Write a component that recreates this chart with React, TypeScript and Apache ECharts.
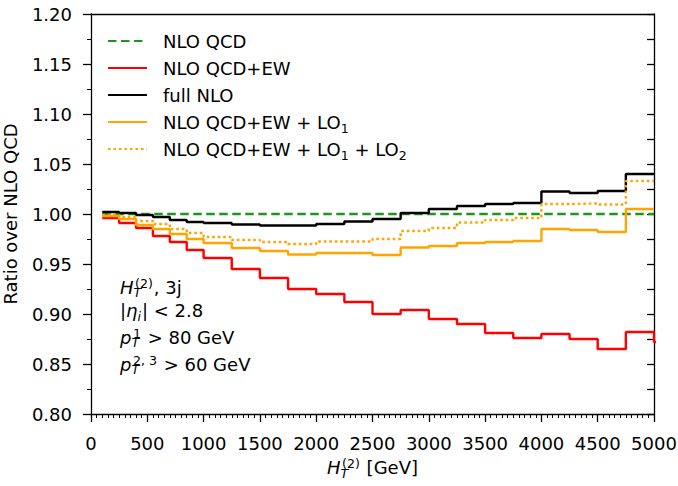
import React, { useEffect, useRef } from "react";
import * as echarts from "echarts";

// ---- data ----
const binEdges = [100, 250, 400, 550, 700, 850, 1000, 1250, 1500, 1750, 2000, 2250, 2500, 2750, 3000, 3250, 3500, 3750, 4000, 4250, 4500, 4750, 5000];
// red histogram has one more bin past the axis end (clipped)
const binEdgesEw = [...binEdges, 5250];

const nloQcd = [1.0, 1.0, 1.0, 1.0, 1.0, 1.0, 1.0, 1.0, 1.0, 1.0, 1.0, 1.0, 1.0, 1.0, 1.0, 1.0, 1.0, 1.0, 1.0, 1.0, 1.0, 1.0];
const nloQcdEw = [0.996, 0.991, 0.986, 0.978, 0.972, 0.964, 0.956, 0.945, 0.936, 0.925, 0.92, 0.912, 0.9, 0.904, 0.895, 0.89, 0.881, 0.876, 0.88, 0.875, 0.865, 0.882, 0.872];
const fullNlo = [1.002, 1.001, 0.999, 0.997, 0.994, 0.992, 0.991, 0.9895, 0.9885, 0.9885, 0.99, 0.9925, 0.995, 1.001, 1.005, 1.008, 1.01, 1.011, 1.0225, 1.021, 1.023, 1.04];
const nloQcdEwLo1 = [0.998, 0.995, 0.989, 0.985, 0.98, 0.975, 0.971, 0.966, 0.963, 0.9595, 0.961, 0.961, 0.959, 0.9665, 0.968, 0.971, 0.972, 0.973, 0.985, 0.984, 0.982, 1.005];
const nloQcdEwLo12 = [0.999, 0.997, 0.993, 0.99, 0.985, 0.981, 0.977, 0.974, 0.972, 0.97, 0.9725, 0.9725, 0.975, 0.983, 0.986, 0.9915, 0.994, 0.996, 1.01, 1.0105, 1.0095, 1.033];

const seriesNames = ["NLO QCD", "NLO QCD+EW", "full NLO", "NLO QCD+EW + LO1", "NLO QCD+EW + LO1 + LO2"];
const yTicks = { min: 0.8, max: 1.2, step: 0.05 };
const xTicks = { min: 0, max: 5000, step: 500 };

const FONT = '"DejaVu Sans", sans-serif';
const FS = 18;
const SS = FS * 0.7;

function stepPoints(edges: number[], vals: number[]) {
  const pts: number[][] = vals.map((v, i) => [edges[i], v]);
  pts.push([edges[vals.length], vals[vals.length - 1]]);
  return pts;
}

let measureCtx: CanvasRenderingContext2D | null = null;
function measure(t: string, fs: number, it?: boolean) {
  if (!measureCtx) measureCtx = document.createElement("canvas").getContext("2d");
  measureCtx!.font = `${it ? "italic " : ""}${fs}px "DejaVu Sans"`;
  return measureCtx!.measureText(t).width;
}

// piece: plain text, subscript only, or stacked sub+sup block
type Piece = { t?: string; it?: boolean; sub?: string; subDy?: number; sup?: string; dx?: number };

const SUB_DY = 3.6; // baseline shift of a lone subscript
const STACK_SUB = 3.4; // sub baseline below main baseline (stacked)
const STACK_SUP = -6.0; // sup baseline relative to main baseline (stacked)
const SUP_DX = 1.5;

function mathText(x0: number, base: number, pieces: Piece[], center = false) {
  // measure
  const widths = pieces.map((p) => {
    if (p.sup !== undefined) return Math.max(measure(p.sub || "", SS, true), SUP_DX + measure(p.sup, SS, false));
    if (p.sub !== undefined) return measure(p.sub, SS, true);
    return measure(p.t || "", FS, p.it);
  });
  const total = widths.reduce((a, w, i) => a + w + (pieces[i].dx || 0), 0);
  let x = center ? x0 - total / 2 : x0;
  const els: any[] = [];
  pieces.forEach((p, i) => {
    x += p.dx || 0;
    if (p.sup !== undefined) {
      const lh = STACK_SUB - STACK_SUP;
      const midBase = (STACK_SUB + STACK_SUP) / 2;
      els.push({
        type: "text",
        x,
        y: base + midBase - 0.346 * SS,
        silent: true,
        style: {
          text: "{p|" + p.sup + "}\n{b|" + (p.sub || "") + "}",
          align: "left",
          verticalAlign: "middle",
          rich: {
            p: { fontFamily: FONT, fontSize: SS, fill: "#000", lineHeight: lh, padding: [0, 0, 0, SUP_DX] },
            b: { fontFamily: FONT, fontSize: SS, fill: "#000", fontStyle: "italic", lineHeight: lh },
          },
        },
      });
    } else if (p.sub !== undefined) {
      els.push({
        type: "text",
        x,
        y: base + SUB_DY - 0.346 * SS,
        silent: true,
        style: { text: p.sub, fill: "#000", fontSize: SS, fontFamily: FONT, fontStyle: "italic", align: "left", verticalAlign: "middle" },
      });
    } else {
      els.push({
        type: "text",
        x,
        y: base - 0.346 * FS,
        silent: true,
        style: { text: p.t, fill: "#000", fontSize: FS, fontFamily: FONT, fontStyle: p.it ? "italic" : "normal", align: "left", verticalAlign: "middle" },
      });
    }
    x += widths[i];
  });
  return els;
}

export default function App() {
  const ref = useRef<HTMLDivElement>(null);
  useEffect(() => {
    if (!ref.current) return;
    const chart = echarts.init(ref.current, undefined, { renderer: "svg" });

    const legendFmt = (name: string) => {
      if (name === "NLO QCD+EW + LO1") return "{f|NLO QCD+EW + LO}{s|1}";
      if (name === "NLO QCD+EW + LO1 + LO2") return "{f|NLO QCD+EW + LO}{s|1}{a| + LO}{s|2}";
      return "{f|" + name + "}";
    };

    const annot = [
      ...mathText(120, 293.5, [{ t: "H", it: true }, { sub: "T", sup: "(2)" }, { t: ", 3j", dx: 1 }]),
      ...mathText(120, 317, [{ t: "|" }, { t: "η", it: true }, { sub: "i" }, { t: "| < 2.8", dx: 1 }]),
      ...mathText(120, 343.5, [{ t: "p", it: true }, { sub: "T", sup: "1" }, { t: " > 80 GeV", dx: 1 }]),
      ...mathText(120, 370.5, [{ t: "p", it: true }, { sub: "T", sup: "2, 3" }, { t: " > 60 GeV", dx: 1 }]),
      ...mathText(372.5, 474, [{ t: "H", it: true }, { sub: "T", sup: "(2)" }, { t: " [GeV]", dx: 1 }], true),
    ];

    const axisLineStyle = { color: "#000", width: 1.3 };

    const mk = (name: string, edges: number[], vals: number[], color: string, type: any, z: number) => ({
      type: "line",
      name,
      data: stepPoints(edges, vals),
      step: "end",
      symbol: "none",
      clip: true,
      z,
      xAxisIndex: 0,
      yAxisIndex: 0,
      itemStyle: { color },
      lineStyle: { color, width: 2.4, type, cap: "butt" },
    });

    const legendRich = {
      f: { fontFamily: FONT, fontSize: FS, color: "#000", lineHeight: 26, padding: [0, 0, 0, 11] },
      a: { fontFamily: FONT, fontSize: FS, color: "#000", lineHeight: 26 },
      s: { fontFamily: FONT, fontSize: SS, color: "#000", lineHeight: 12, verticalAlign: "bottom" },
    };

    const legends = seriesNames.map((n, i) => ({
      orient: "vertical",
      left: 107,
      top: 41 + 27 * i - 13,
      padding: 0,
      itemWidth: 39,
      itemHeight: 14,
      itemGap: 0,
      data: [n],
      formatter: legendFmt,
      selectedMode: false,
      itemStyle: { opacity: 0, color: "transparent", borderWidth: 0 },
      textStyle: { fontFamily: FONT, fontSize: FS, color: "#000", lineHeight: 26, rich: legendRich },
    }));

    chart.setOption({
      animation: false,
      backgroundColor: "#fff",
      textStyle: { fontFamily: FONT, fontSize: FS, color: "#000" },
      grid: { left: 91, top: 14, width: 563, height: 400, containLabel: false, outerBoundsMode: "none" },
      legend: legends,
      xAxis: [
        {
          type: "value",
          min: xTicks.min,
          max: xTicks.max,
          interval: xTicks.step,
          position: "bottom",
          axisLine: { show: true, onZero: false, lineStyle: axisLineStyle },
          axisTick: { show: true, inside: false, length: 8, lineStyle: axisLineStyle },
          minorTick: { show: true, splitNumber: 10, length: 4, lineStyle: { color: "#000", width: 1 } },
          axisLabel: { margin: 20, fontSize: FS, color: "#000", fontFamily: FONT, formatter: (v: number) => String(v) },
          splitLine: { show: false },
          minorSplitLine: { show: false },
        },
        {
          type: "value",
          min: xTicks.min,
          max: xTicks.max,
          interval: xTicks.step,
          position: "top",
          axisLine: { show: true, onZero: false, lineStyle: axisLineStyle },
          axisTick: { show: false },
          axisLabel: { show: false },
          splitLine: { show: false },
        },
      ],
      yAxis: [
        {
          type: "value",
          min: yTicks.min,
          max: yTicks.max,
          interval: yTicks.step,
          position: "left",
          name: "Ratio over NLO QCD",
          nameLocation: "middle",
          nameRotate: 90,
          nameGap: 72,
          nameTextStyle: { fontSize: FS, color: "#000", fontFamily: FONT },
          axisLine: { show: true, onZero: false, lineStyle: axisLineStyle },
          axisTick: { show: true, inside: false, length: 8, lineStyle: axisLineStyle },
          minorTick: { show: true, splitNumber: 2, length: 4, lineStyle: { color: "#000", width: 1 } },
          axisLabel: { margin: 19, fontSize: FS, color: "#000", fontFamily: FONT, formatter: (v: number) => v.toFixed(2) },
          splitLine: { show: false },
          minorSplitLine: { show: false },
        },
        {
          type: "value",
          min: yTicks.min,
          max: yTicks.max,
          interval: 0.025,
          position: "right",
          axisLine: { show: true, onZero: false, lineStyle: axisLineStyle },
          axisTick: { show: true, inside: true, length: 7, lineStyle: axisLineStyle },
          axisLabel: { show: false },
          splitLine: { show: false },
        },
      ],
      series: [
        mk(seriesNames[0], binEdges, nloQcd, "#1e961e", [8.5, 4.5], 2),
        mk(seriesNames[1], binEdgesEw, nloQcdEw, "#ff0000", "solid", 3),
        mk(seriesNames[2], binEdges, fullNlo, "#000000", "solid", 4),
        mk(seriesNames[3], binEdges, nloQcdEwLo1, "#ffa500", "solid", 5),
        mk(seriesNames[4], binEdges, nloQcdEwLo12, "#ffa500", [2.6, 2.9], 6),
      ],
      graphic: annot,
    });
    return () => chart.dispose();
  }, []);
  return (
    <div
      ref={ref}
      style={{ position: "fixed", left: 0, top: 0, width: 678, height: 486, background: "#fff" }}
    />
  );
}
